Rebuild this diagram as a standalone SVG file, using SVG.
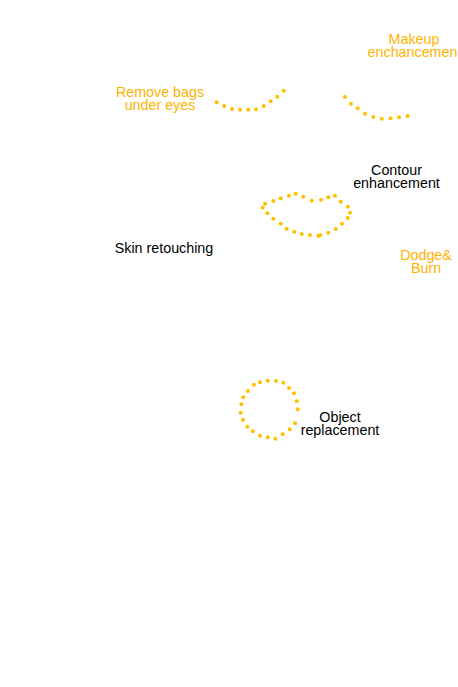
<svg xmlns="http://www.w3.org/2000/svg" width="458" height="687" viewBox="0 0 458 687">
<style>
text{font-family:"Liberation Sans",Arial,sans-serif;font-size:14.3px;text-anchor:middle}
.o{fill:#FFB300}
.k{fill:#000}
.d circle{fill:#FFC000}
</style>
<rect width="458" height="687" fill="#fff"/>
<g id="makeup"><text class="o" x="414" y="44">Makeup</text><text class="o" x="412.5" y="57">enchancemen</text></g>
<g id="bags"><text class="o" x="160" y="97">Remove bags</text><text class="o" x="160" y="110">under eyes</text></g>
<g id="contour"><text class="k" x="396.5" y="175">Contour</text><text class="k" x="396.5" y="188">enhancement</text></g>
<g id="dodge"><text class="o" x="426" y="260">Dodge&amp;</text><text class="o" x="426" y="273">Burn</text></g>
<g id="skin"><text class="k" x="164" y="253">Skin retouching</text></g>
<g id="object"><text class="k" x="340" y="422">Object</text><text class="k" x="340" y="435">replacement</text></g>
<g id="marks" class="d">
<g id="left-eye">
<circle cx="216.7" cy="102.3" r="2"/><circle cx="224.3" cy="106" r="2"/><circle cx="232" cy="109" r="2"/><circle cx="240" cy="109.7" r="2"/><circle cx="248.3" cy="109.7" r="2"/><circle cx="256" cy="109.3" r="2"/><circle cx="263.7" cy="106" r="2"/><circle cx="270.7" cy="101.3" r="2"/><circle cx="277.3" cy="96.7" r="2"/><circle cx="283.7" cy="90.7" r="2"/>
</g>
<g id="right-eye">
<circle cx="345" cy="97" r="2"/><circle cx="351" cy="103.7" r="2"/><circle cx="357.7" cy="108.3" r="2"/><circle cx="365" cy="113.7" r="2"/><circle cx="373.3" cy="117" r="2"/><circle cx="381.7" cy="118.7" r="2"/><circle cx="390.7" cy="118.3" r="2"/><circle cx="399" cy="117.3" r="2"/><circle cx="407.7" cy="116" r="2"/>
</g>
<g id="lips">
<circle cx="262.7" cy="207.7" r="2"/><circle cx="265" cy="203.7" r="2"/><circle cx="273.3" cy="201" r="2"/><circle cx="280.7" cy="198.3" r="2"/><circle cx="289" cy="195.7" r="2"/><circle cx="295.7" cy="193.7" r="2"/><circle cx="303.3" cy="196.7" r="2"/><circle cx="311.7" cy="200.7" r="2"/><circle cx="321" cy="199.7" r="2"/><circle cx="328.3" cy="197.3" r="2"/><circle cx="335" cy="195.7" r="2"/><circle cx="340.7" cy="201.7" r="2"/><circle cx="348" cy="206.7" r="2"/><circle cx="350" cy="212.7" r="2"/><circle cx="347.7" cy="218" r="2"/><circle cx="342" cy="223.7" r="2"/><circle cx="335.7" cy="229" r="2"/><circle cx="328.3" cy="232.7" r="2"/><circle cx="320.3" cy="235" r="2"/><circle cx="318.3" cy="236" r="2"/><circle cx="310" cy="235" r="2"/><circle cx="301.7" cy="234" r="2"/><circle cx="294.3" cy="231.7" r="2"/><circle cx="286.7" cy="228.7" r="2"/><circle cx="280.7" cy="223.7" r="2"/><circle cx="273.3" cy="218.7" r="2"/><circle cx="267.3" cy="213.3" r="2"/>
</g>
<g id="ring">
<circle cx="267.7" cy="380.7" r="2"/><circle cx="276" cy="381" r="2"/><circle cx="283.3" cy="382.7" r="2"/><circle cx="289" cy="388" r="2"/><circle cx="294" cy="393.3" r="2"/><circle cx="296.7" cy="401.3" r="2"/><circle cx="297.7" cy="409.3" r="2"/><circle cx="295" cy="423.3" r="2"/><circle cx="289.7" cy="429.3" r="2"/><circle cx="282.7" cy="434.3" r="2"/><circle cx="275.3" cy="438.7" r="2"/><circle cx="267.7" cy="437.3" r="2"/><circle cx="260" cy="435.7" r="2"/><circle cx="252.7" cy="431.3" r="2"/><circle cx="247.3" cy="426.7" r="2"/><circle cx="243" cy="419.7" r="2"/><circle cx="240.7" cy="412.7" r="2"/><circle cx="241.3" cy="404.3" r="2"/><circle cx="243.3" cy="397.3" r="2"/><circle cx="248" cy="391" r="2"/><circle cx="254" cy="384.7" r="2"/><circle cx="260" cy="382.3" r="2"/>
</g>
</g>
</svg>
